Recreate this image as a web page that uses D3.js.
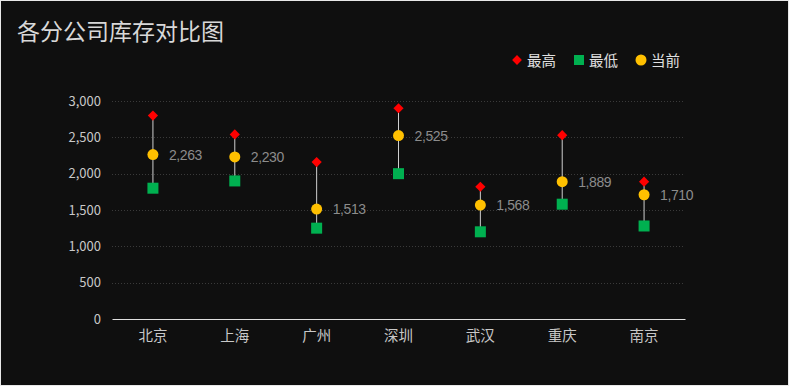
<!DOCTYPE html>
<html><head><meta charset="utf-8">
<script src="https://cdn.jsdelivr.net/npm/d3@7"></script>
<style>
html,body{margin:0;padding:0;background:#e8e8e8;}
svg{display:block;}
</style></head>
<body>
<svg id="c" width="789" height="386"></svg>
<script>
const categories = ["北京","上海","广州","深圳","武汉","重庆","南京"];
const highValues = [2800,2540,2160,2900,1820,2530,1890];
const lowValues = [1800,1900,1250,2000,1200,1580,1280];
const currentValues = [2263,2230,1513,2525,1568,1889,1710];
const yTicks = [0,500,1000,1500,2000,2500,3000];
const legendItems = ["最高","最低","当前"];

const W = 789, H = 386;
const svg = d3.select("#c");
const font = "'Noto Sans CJK SC','Microsoft YaHei',sans-serif";
svg.append("rect").attr("x",1).attr("y",1).attr("width",W-2).attr("height",H-2).attr("fill","#0f0f0f");

const m = {l:112, r:685, t:101, b:319};
const x = d3.scaleBand().domain(categories).range([m.l, m.r]);
const y = d3.scaleLinear().domain([0,3000]).range([m.b, m.t]);

// title
svg.append("text").attr("x",17).attr("y",40).text("各分公司库存对比图")
  .attr("fill","#d8d8d8").attr("font-size",23).attr("font-family",font);

// grid
svg.append("g").selectAll("line").data(yTicks.filter(d=>d>0)).join("line")
  .attr("x1",m.l).attr("x2",m.r).attr("y1",d=>Math.round(y(d))+0.5).attr("y2",d=>Math.round(y(d))+0.5)
  .attr("stroke","#3a3a3a").attr("stroke-dasharray","1,2");

// y axis labels
const yAxis = d3.axisLeft(y).tickValues(yTicks).tickFormat(d3.format(",")).tickSize(0).tickPadding(11);
const gy = svg.append("g").attr("transform",`translate(${m.l},0)`).call(yAxis);
gy.select(".domain").remove();
gy.selectAll("text").attr("fill","#c8c8c8").attr("font-size",13).attr("font-family",font);

// x axis
const xAxis = d3.axisBottom(x).tickSize(0).tickPadding(12);
const gx = svg.append("g").attr("transform",`translate(0,${m.b})`).call(xAxis);
gx.select(".domain").attr("stroke","#e0e0e0").attr("stroke-width",1.2);
gx.selectAll("text").attr("fill","#c8c8c8").attr("font-size",14.5).attr("font-family",font);

const data = categories.map((c,i)=>({c, hi:highValues[i], lo:lowValues[i], cur:currentValues[i]}));
const cx = d => x(d.c) + x.bandwidth()/2;

// connectors
svg.append("g").selectAll("line").data(data).join("line")
  .attr("x1",cx).attr("x2",cx).attr("y1",d=>y(d.hi)).attr("y2",d=>y(d.lo))
  .attr("stroke","#cfcfcf").attr("stroke-width",1);

// high diamonds
svg.append("g").selectAll("path").data(data).join("path")
  .attr("d", d3.symbol().type(d3.symbolSquare).size(52))
  .attr("transform", d=>`translate(${cx(d)},${y(d.hi)}) rotate(45)`)
  .attr("fill","#ff0000");

// low squares
svg.append("g").selectAll("rect").data(data).join("rect")
  .attr("x",d=>cx(d)-5.5).attr("y",d=>y(d.lo)-5.5).attr("width",11).attr("height",11)
  .attr("fill","#00b050");

// current circles
svg.append("g").selectAll("circle").data(data).join("circle")
  .attr("cx",cx).attr("cy",d=>y(d.cur)).attr("r",5.5).attr("fill","#ffc000");

// labels
svg.append("g").selectAll("text").data(data).join("text")
  .attr("x",d=>cx(d)+16).attr("y",d=>y(d.cur)+5)
  .text(d=>d3.format(",")(d.cur))
  .attr("fill","#8c8c8c").attr("font-size",14).attr("letter-spacing",-0.4)
  .attr("font-family","'Liberation Sans',Arial,sans-serif");

// legend
const lg = svg.append("g");
const lx = [517, 579, 641];
legendItems.forEach((t,i)=>{
  const g = lg.append("g").attr("transform",`translate(${lx[i]},60)`);
  if(i===0) g.append("path").attr("d",d3.symbol().type(d3.symbolSquare).size(48)).attr("transform","rotate(45)").attr("fill","#ff0000");
  if(i===1) g.append("rect").attr("x",-5).attr("y",-5).attr("width",10).attr("height",10).attr("fill","#00b050");
  if(i===2) g.append("circle").attr("r",5.5).attr("fill","#ffc000");
  g.append("text").attr("x",10).attr("y",5.5).text(t).attr("fill","#e0e0e0").attr("font-size",14.5).attr("font-family",font);
});
</script>
</body></html>
